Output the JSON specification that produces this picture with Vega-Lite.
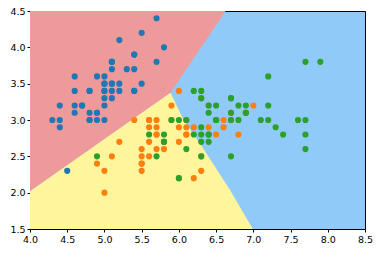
{
  "$schema": "https://vega.github.io/schema/vega-lite/v6.json",
  "width": 335,
  "height": 218,
  "autosize": {"type": "none"},
  "padding": {"left": 30, "top": 11, "right": 25, "bottom": 29},
  "background": "white",
  "config": {
    "view": {"fill": "#90CAF9", "stroke": "#000000", "strokeWidth": 1},
    "font": "DejaVu Sans",
    "axis": {"labelFont": "DejaVu Sans", "labelFontSize": 9.5, "labelColor": "#000000", "tickColor": "#000000", "tickSize": 3, "domain": false, "grid": false, "title": null, "labelPadding": 2, "labelOverlap": false, "labelFlush": false, "labelBound": false}
  },
  "datasets": {
    "red": [
      {"x": 4.0, "lo": 2.02, "hi": 4.5},
      {"x": 5.888, "lo": 3.376, "hi": 4.5},
      {"x": 6.628, "lo": 4.5, "hi": 4.5}
    ],
    "yellow": [
      {"x": 4.0, "lo": 1.5, "hi": 2.02},
      {"x": 5.888, "lo": 1.5, "hi": 3.376},
      {"x": 6.063, "lo": 1.5, "hi": 3.001},
      {"x": 6.305, "lo": 1.5, "hi": 2.643},
      {"x": 6.695, "lo": 1.5, "hi": 2.024},
      {"x": 6.993, "lo": 1.5, "hi": 1.5}
    ],
    "iris": [
      {"sl":5.1,"sw":3.5,"species":"setosa"},{"sl":4.9,"sw":3.0,"species":"setosa"},{"sl":4.7,"sw":3.2,"species":"setosa"},{"sl":4.6,"sw":3.1,"species":"setosa"},{"sl":5.0,"sw":3.6,"species":"setosa"},
      {"sl":5.4,"sw":3.9,"species":"setosa"},{"sl":4.6,"sw":3.4,"species":"setosa"},{"sl":5.0,"sw":3.4,"species":"setosa"},{"sl":4.4,"sw":2.9,"species":"setosa"},{"sl":4.9,"sw":3.1,"species":"setosa"},
      {"sl":5.4,"sw":3.7,"species":"setosa"},{"sl":4.8,"sw":3.4,"species":"setosa"},{"sl":4.8,"sw":3.0,"species":"setosa"},{"sl":4.3,"sw":3.0,"species":"setosa"},{"sl":5.8,"sw":4.0,"species":"setosa"},
      {"sl":5.7,"sw":4.4,"species":"setosa"},{"sl":5.4,"sw":3.9,"species":"setosa"},{"sl":5.1,"sw":3.5,"species":"setosa"},{"sl":5.7,"sw":3.8,"species":"setosa"},{"sl":5.1,"sw":3.8,"species":"setosa"},
      {"sl":5.4,"sw":3.4,"species":"setosa"},{"sl":5.1,"sw":3.7,"species":"setosa"},{"sl":4.6,"sw":3.6,"species":"setosa"},{"sl":5.1,"sw":3.3,"species":"setosa"},{"sl":4.8,"sw":3.4,"species":"setosa"},
      {"sl":5.0,"sw":3.0,"species":"setosa"},{"sl":5.0,"sw":3.4,"species":"setosa"},{"sl":5.2,"sw":3.5,"species":"setosa"},{"sl":5.2,"sw":3.4,"species":"setosa"},{"sl":4.7,"sw":3.2,"species":"setosa"},
      {"sl":4.8,"sw":3.1,"species":"setosa"},{"sl":5.4,"sw":3.4,"species":"setosa"},{"sl":5.2,"sw":4.1,"species":"setosa"},{"sl":5.5,"sw":4.2,"species":"setosa"},{"sl":4.9,"sw":3.1,"species":"setosa"},
      {"sl":5.0,"sw":3.2,"species":"setosa"},{"sl":5.5,"sw":3.5,"species":"setosa"},{"sl":4.9,"sw":3.6,"species":"setosa"},{"sl":4.4,"sw":3.0,"species":"setosa"},{"sl":5.1,"sw":3.4,"species":"setosa"},
      {"sl":5.0,"sw":3.5,"species":"setosa"},{"sl":4.5,"sw":2.3,"species":"setosa"},{"sl":4.4,"sw":3.2,"species":"setosa"},{"sl":5.0,"sw":3.5,"species":"setosa"},{"sl":5.1,"sw":3.8,"species":"setosa"},
      {"sl":4.8,"sw":3.0,"species":"setosa"},{"sl":5.1,"sw":3.8,"species":"setosa"},{"sl":4.6,"sw":3.2,"species":"setosa"},{"sl":5.3,"sw":3.7,"species":"setosa"},{"sl":5.0,"sw":3.3,"species":"setosa"},
      {"sl":7.0,"sw":3.2,"species":"versicolor"},{"sl":6.4,"sw":3.2,"species":"versicolor"},{"sl":6.9,"sw":3.1,"species":"versicolor"},{"sl":5.5,"sw":2.3,"species":"versicolor"},{"sl":6.5,"sw":2.8,"species":"versicolor"},
      {"sl":5.7,"sw":2.8,"species":"versicolor"},{"sl":6.3,"sw":3.3,"species":"versicolor"},{"sl":4.9,"sw":2.4,"species":"versicolor"},{"sl":6.6,"sw":2.9,"species":"versicolor"},{"sl":5.2,"sw":2.7,"species":"versicolor"},
      {"sl":5.0,"sw":2.0,"species":"versicolor"},{"sl":5.9,"sw":3.0,"species":"versicolor"},{"sl":6.0,"sw":2.2,"species":"versicolor"},{"sl":6.1,"sw":2.9,"species":"versicolor"},{"sl":5.6,"sw":2.9,"species":"versicolor"},
      {"sl":6.7,"sw":3.1,"species":"versicolor"},{"sl":5.6,"sw":3.0,"species":"versicolor"},{"sl":5.8,"sw":2.7,"species":"versicolor"},{"sl":6.2,"sw":2.2,"species":"versicolor"},{"sl":5.6,"sw":2.5,"species":"versicolor"},
      {"sl":5.9,"sw":3.2,"species":"versicolor"},{"sl":6.1,"sw":2.8,"species":"versicolor"},{"sl":6.3,"sw":2.5,"species":"versicolor"},{"sl":6.1,"sw":2.8,"species":"versicolor"},{"sl":6.4,"sw":2.9,"species":"versicolor"},
      {"sl":6.6,"sw":3.0,"species":"versicolor"},{"sl":6.8,"sw":2.8,"species":"versicolor"},{"sl":6.7,"sw":3.0,"species":"versicolor"},{"sl":6.0,"sw":2.9,"species":"versicolor"},{"sl":5.7,"sw":2.6,"species":"versicolor"},
      {"sl":5.5,"sw":2.4,"species":"versicolor"},{"sl":5.5,"sw":2.4,"species":"versicolor"},{"sl":5.8,"sw":2.7,"species":"versicolor"},{"sl":6.0,"sw":2.7,"species":"versicolor"},{"sl":5.4,"sw":3.0,"species":"versicolor"},
      {"sl":6.0,"sw":3.4,"species":"versicolor"},{"sl":6.7,"sw":3.1,"species":"versicolor"},{"sl":6.3,"sw":2.3,"species":"versicolor"},{"sl":5.6,"sw":3.0,"species":"versicolor"},{"sl":5.5,"sw":2.5,"species":"versicolor"},
      {"sl":5.5,"sw":2.6,"species":"versicolor"},{"sl":6.1,"sw":3.0,"species":"versicolor"},{"sl":5.8,"sw":2.6,"species":"versicolor"},{"sl":5.0,"sw":2.3,"species":"versicolor"},{"sl":5.6,"sw":2.7,"species":"versicolor"},
      {"sl":5.7,"sw":3.0,"species":"versicolor"},{"sl":5.7,"sw":2.9,"species":"versicolor"},{"sl":6.2,"sw":2.9,"species":"versicolor"},{"sl":5.1,"sw":2.5,"species":"versicolor"},{"sl":5.7,"sw":2.8,"species":"versicolor"},
      {"sl":6.3,"sw":3.3,"species":"virginica"},{"sl":5.8,"sw":2.7,"species":"virginica"},{"sl":7.1,"sw":3.0,"species":"virginica"},{"sl":6.3,"sw":2.9,"species":"virginica"},{"sl":6.5,"sw":3.0,"species":"virginica"},
      {"sl":7.6,"sw":3.0,"species":"virginica"},{"sl":4.9,"sw":2.5,"species":"virginica"},{"sl":7.3,"sw":2.9,"species":"virginica"},{"sl":6.7,"sw":2.5,"species":"virginica"},{"sl":7.2,"sw":3.6,"species":"virginica"},
      {"sl":6.5,"sw":3.2,"species":"virginica"},{"sl":6.4,"sw":2.7,"species":"virginica"},{"sl":6.8,"sw":3.0,"species":"virginica"},{"sl":5.7,"sw":2.5,"species":"virginica"},{"sl":5.8,"sw":2.8,"species":"virginica"},
      {"sl":6.4,"sw":3.2,"species":"virginica"},{"sl":6.5,"sw":3.0,"species":"virginica"},{"sl":7.7,"sw":3.8,"species":"virginica"},{"sl":7.7,"sw":2.6,"species":"virginica"},{"sl":6.0,"sw":2.2,"species":"virginica"},
      {"sl":6.9,"sw":3.2,"species":"virginica"},{"sl":5.6,"sw":2.8,"species":"virginica"},{"sl":7.7,"sw":2.8,"species":"virginica"},{"sl":6.3,"sw":2.7,"species":"virginica"},{"sl":6.7,"sw":3.3,"species":"virginica"},
      {"sl":7.2,"sw":3.2,"species":"virginica"},{"sl":6.2,"sw":2.8,"species":"virginica"},{"sl":6.1,"sw":3.0,"species":"virginica"},{"sl":6.4,"sw":2.8,"species":"virginica"},{"sl":7.2,"sw":3.0,"species":"virginica"},
      {"sl":7.4,"sw":2.8,"species":"virginica"},{"sl":7.9,"sw":3.8,"species":"virginica"},{"sl":6.4,"sw":2.8,"species":"virginica"},{"sl":6.3,"sw":2.8,"species":"virginica"},{"sl":6.1,"sw":2.6,"species":"virginica"},
      {"sl":7.7,"sw":3.0,"species":"virginica"},{"sl":6.3,"sw":3.4,"species":"virginica"},{"sl":6.4,"sw":3.1,"species":"virginica"},{"sl":6.0,"sw":3.0,"species":"virginica"},{"sl":6.9,"sw":3.1,"species":"virginica"},
      {"sl":6.7,"sw":3.1,"species":"virginica"},{"sl":6.9,"sw":3.1,"species":"virginica"},{"sl":5.8,"sw":2.7,"species":"virginica"},{"sl":6.8,"sw":3.2,"species":"virginica"},{"sl":6.7,"sw":3.3,"species":"virginica"},
      {"sl":6.7,"sw":3.0,"species":"virginica"},{"sl":6.3,"sw":2.5,"species":"virginica"},{"sl":6.5,"sw":3.0,"species":"virginica"},{"sl":6.2,"sw":3.4,"species":"virginica"},{"sl":5.9,"sw":3.0,"species":"virginica"}
    ]
  },
  "layer": [
    {
      "data": {"name": "red"},
      "mark": {"type": "area", "color": "#EF9A9A", "clip": true},
      "encoding": {
        "x": {"field": "x", "type": "quantitative", "scale": {"domain": [4.0, 8.5], "nice": false, "zero": false},
              "axis": {"values": [4.0, 4.5, 5.0, 5.5, 6.0, 6.5, 7.0, 7.5, 8.0, 8.5], "format": ".1f", "labelOverlap": false, "tickCount": 10}},
        "y": {"field": "lo", "type": "quantitative", "scale": {"domain": [1.5, 4.5], "nice": false, "zero": false},
              "axis": {"values": [1.5, 2.0, 2.5, 3.0, 3.5, 4.0, 4.5], "format": ".1f", "labelOverlap": false, "tickCount": 7}},
        "y2": {"field": "hi"}
      }
    },
    {
      "data": {"name": "yellow"},
      "mark": {"type": "area", "color": "#FFF59D", "clip": true},
      "encoding": {
        "x": {"field": "x", "type": "quantitative"},
        "y": {"field": "lo", "type": "quantitative"},
        "y2": {"field": "hi"}
      }
    },
    {
      "data": {"name": "iris"},
      "mark": {"type": "circle", "size": 38, "opacity": 1},
      "encoding": {
        "x": {"field": "sl", "type": "quantitative"},
        "y": {"field": "sw", "type": "quantitative"},
        "color": {"field": "species", "type": "nominal", "legend": null,
                  "scale": {"domain": ["setosa", "versicolor", "virginica"], "range": ["#1f77b4", "#ff7f0e", "#2ca02c"]}}
      }
    }
  ]
}
